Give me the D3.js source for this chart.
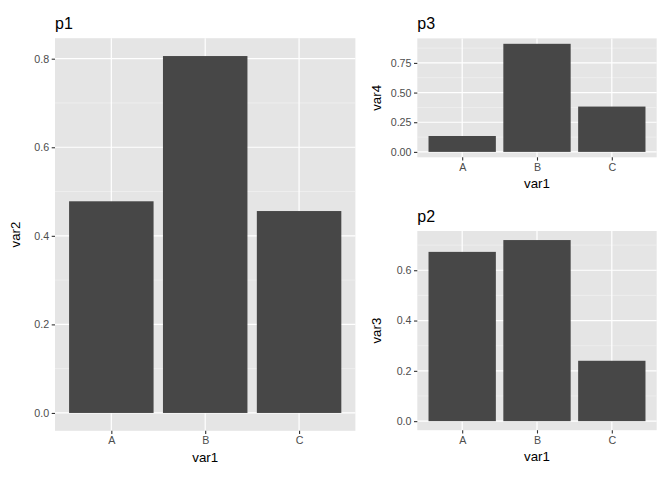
<!DOCTYPE html>
<html>
<head>
<meta charset="utf-8">
<script src="https://cdn.jsdelivr.net/npm/d3@7"></script>
<style>
  body { margin: 0; background: #fff; }
  svg { font-family: Arial, "Liberation Sans", sans-serif; }
</style>
</head>
<body>
<svg id="chart" width="672" height="480"></svg>
<script>
// data
const categories = ['A', 'B', 'C']
const var2 = [0.478, 0.806, 0.456]
const var3 = [0.673, 0.720, 0.240]
const var4 = [0.134, 0.911, 0.382]
const ticksP1 = [0, 0.2, 0.4, 0.6, 0.8]
const ticksP2 = [0, 0.2, 0.4, 0.6]
const ticksP3 = [0, 0.25, 0.5, 0.75]

const svg = d3.select('#chart')

// panel layout
const panels = [
  { title: 'p1', ylab: 'var2', values: var2, ticks: ticksP1, fmt: d3.format('.1f'),
    x0: 55, x1: 355.4, y0: 38.2, y1: 430.8, ylabX: 15 },
  { title: 'p3', ylab: 'var4', values: var4, ticks: ticksP3, fmt: d3.format('.2f'),
    x0: 417.3, x1: 656.7, y0: 38.4, y1: 157.3, ylabX: 376 },
  { title: 'p2', ylab: 'var3', values: var3, ticks: ticksP2, fmt: d3.format('.1f'),
    x0: 417.3, x1: 656.7, y0: 231, y1: 430.2, ylabX: 376 }
]

function drawPanel(p) {
  const g = svg.append('g')
  const max = d3.max(p.values)
  const pad = max * 0.05
  const y = d3.scaleLinear().domain([-pad, max + pad]).range([p.y1, p.y0])
  // discrete axis: 0.6 unit expansion on each side
  const step = (p.x1 - p.x0) / (categories.length - 1 + 1.2)
  const x = d3.scalePoint().domain(categories)
    .range([p.x0 + 0.6 * step, p.x1 - 0.6 * step])
  const bw = 0.9 * step

  g.append('rect')
    .attr('x', p.x0).attr('y', p.y0)
    .attr('width', p.x1 - p.x0).attr('height', p.y1 - p.y0)
    .attr('fill', '#e5e5e5')

  // minor grid
  const t = p.ticks
  const dt = t[1] - t[0]
  const minors = d3.range(t[0] - dt / 2, max + pad, dt)
    .filter(v => v > -pad && v < max + pad)
  g.selectAll('.minor').data(minors).join('line')
    .attr('x1', p.x0).attr('x2', p.x1)
    .attr('y1', d => y(d)).attr('y2', d => y(d))
    .attr('stroke', '#f4f4f4').attr('stroke-width', 0.6)

  // major grid
  g.selectAll('.majy').data(t).join('line')
    .attr('x1', p.x0).attr('x2', p.x1)
    .attr('y1', d => y(d)).attr('y2', d => y(d))
    .attr('stroke', '#fff').attr('stroke-width', 1.2)
  g.selectAll('.majx').data(categories).join('line')
    .attr('x1', d => x(d)).attr('x2', d => x(d))
    .attr('y1', p.y0).attr('y2', p.y1)
    .attr('stroke', '#fff').attr('stroke-width', 1.2)

  // bars
  g.selectAll('.bar').data(p.values).join('rect')
    .attr('x', (d, i) => x(categories[i]) - bw / 2)
    .attr('width', bw)
    .attr('y', d => y(d))
    .attr('height', d => y(0) - y(d))
    .attr('fill', '#474747')

  // axes
  const yAxis = d3.axisLeft(y).tickValues(t).tickFormat(p.fmt).tickSize(3.3).tickPadding(2.5)
  const ya = g.append('g').attr('transform', `translate(${p.x0},0)`).call(yAxis)
  const xAxis = d3.axisBottom(x).tickSize(3.3).tickPadding(2.5)
  const xa = g.append('g').attr('transform', `translate(0,${p.y1})`).call(xAxis)
  for (const a of [ya, xa]) {
    a.select('path.domain').remove()
    a.selectAll('line').attr('stroke', '#333333').attr('stroke-width', 1.1)
    a.selectAll('text').attr('fill', '#4d4d4d').style('font-size', '10.7px')
  }

  // titles
  g.append('text').attr('x', p.x0).attr('y', p.y0 - 9.5)
    .style('font-size', '16px').attr('fill', '#000').text(p.title)
  g.append('text')
    .attr('x', (p.x0 + p.x1) / 2).attr('y', p.y1 + 31)
    .attr('text-anchor', 'middle').style('font-size', '13.3px').text('var1')
  g.append('text')
    .attr('transform', `translate(${p.ylabX},${(p.y0 + p.y1) / 2}) rotate(-90)`)
    .attr('text-anchor', 'middle').attr('dy', '0.35em')
    .style('font-size', '13.3px').text(p.ylab)
}

panels.forEach(drawPanel)
</script>
</body>
</html>
